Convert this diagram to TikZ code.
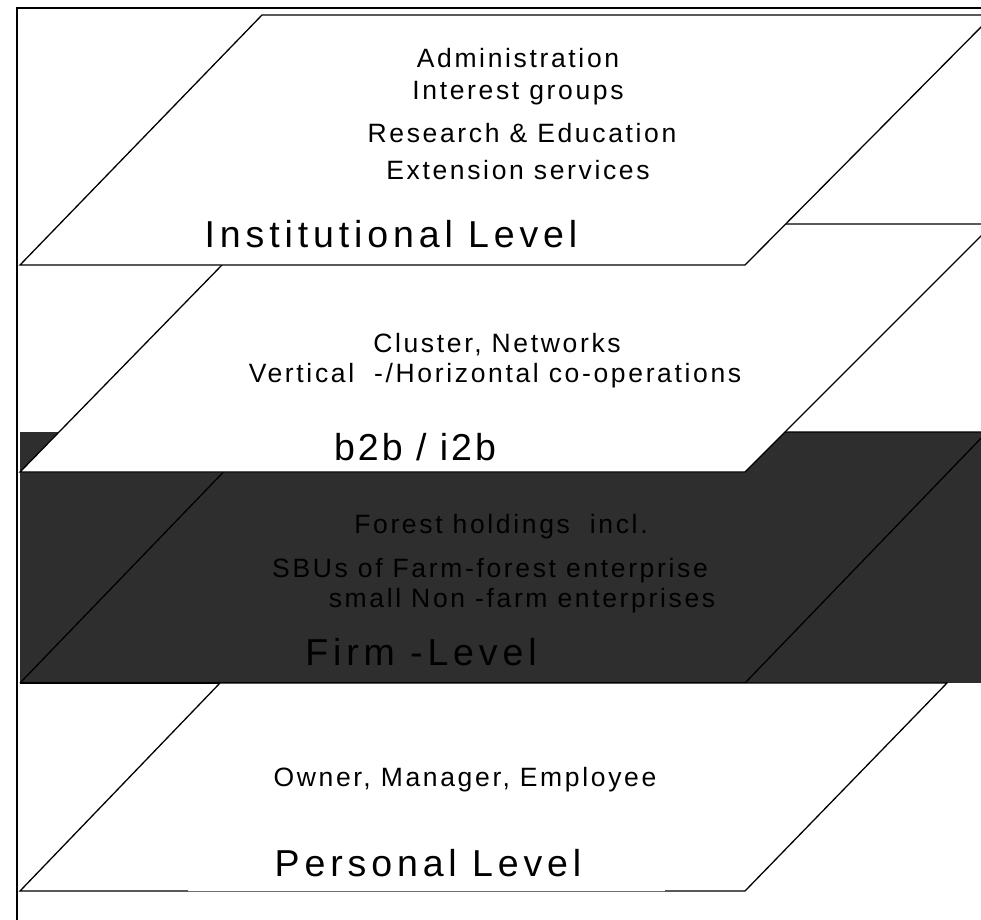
\documentclass[tikz,border=0pt]{standalone}
\usepackage{fontspec}
\setmainfont{Liberation Sans}
\newfontfamily\entryfont[LetterSpace=10]{Liberation Sans}
\newfontfamily\levelfont[LetterSpace=13]{Liberation Sans}
\newfontfamily\levelfontnarrow[LetterSpace=8]{Liberation Sans}
\definecolor{bandgray}{HTML}{2E2E2E}
\definecolor{edgegray}{HTML}{707070}
\begin{document}
\begin{tikzpicture}[x=1pt,y=-1pt,
  plane/.style={fill=white,draw=black,line width=1.3pt,line join=miter},
  outline/.style={draw=black,line width=1.3pt,line join=miter},
  entry/.style={anchor=base,inner sep=0pt,font=\entryfont\fontsize{26.5}{30}\selectfont},
  levelname/.style={anchor=base,inner sep=0pt,font=\levelfont\fontsize{37.5}{42}\selectfont},
  levelnamenarrow/.style={anchor=base,inner sep=0pt,font=\levelfontnarrow\fontsize{37.5}{42}\selectfont}]
\useasboundingbox (0,0) rectangle (981,919);
\clip (0,0) rectangle (981,919);

% outer frame
\draw[line width=1.6pt] (17,925) -- (17,8) -- (990,8);

% shaded band behind the firm level
\fill[bandgray] (20,432) rectangle (990,683);
\draw[outline] (20,683) -- (262,432) -- (990,432) (745,683) -- (987,432);
\draw[outline] (20,683) -- (745,683);

% personal level plane
\fill[white] (20,891) -- (220,683) -- (947,683) -- (745,891) -- cycle;
\draw[outline] (188,891) -- (20,891) -- (220,683) -- (947,683) -- (745,891) -- (665,891);
\draw[edgegray,line width=0.8pt] (188,891) -- (665,891);

% b2b / i2b plane
\draw[plane] (20,472) -- (262,224) -- (990,224) -- (990,227) -- (745,472) -- cycle;

% institutional plane
\draw[plane] (20,265) -- (262,15) -- (990,15) -- (990,18) -- (745,265) -- cycle;

% institutional level texts
\node[entry] (adm) at (518,67) {Administration};
\node[entry] (ig) at (518,99) {Interest groups};
\node[entry] (re) at (522,142) {Research \& Education};
\node[entry] (es) at (518,179) {Extension services};
\node[levelname] (inst) at (391,247) {Institutional Level};

% network level texts
\node[entry] (cn) at (497,352) {Cluster, Networks};
\node[entry] (vh) at (495,382) {Vertical\ \ -/Horizontal co-operations};
\node[levelnamenarrow] (b2b) at (415,460) {b2b / i2b};

% firm level texts
\node[entry] (fh) at (501,533) {Forest holdings\ \ incl.};
\node[entry] (sbu) at (490,577) {SBUs of Farm-forest enterprise};
\node[entry] (snf) at (522,607) {small Non -farm enterprises};
\node[levelname] (firm) at (421,665) {Firm -Level};

% personal level texts
\node[entry] (ome) at (465,786) {Owner, Manager, Employee};
\node[levelname] (pers) at (428,876) {Personal Level};
\end{tikzpicture}
\end{document}
